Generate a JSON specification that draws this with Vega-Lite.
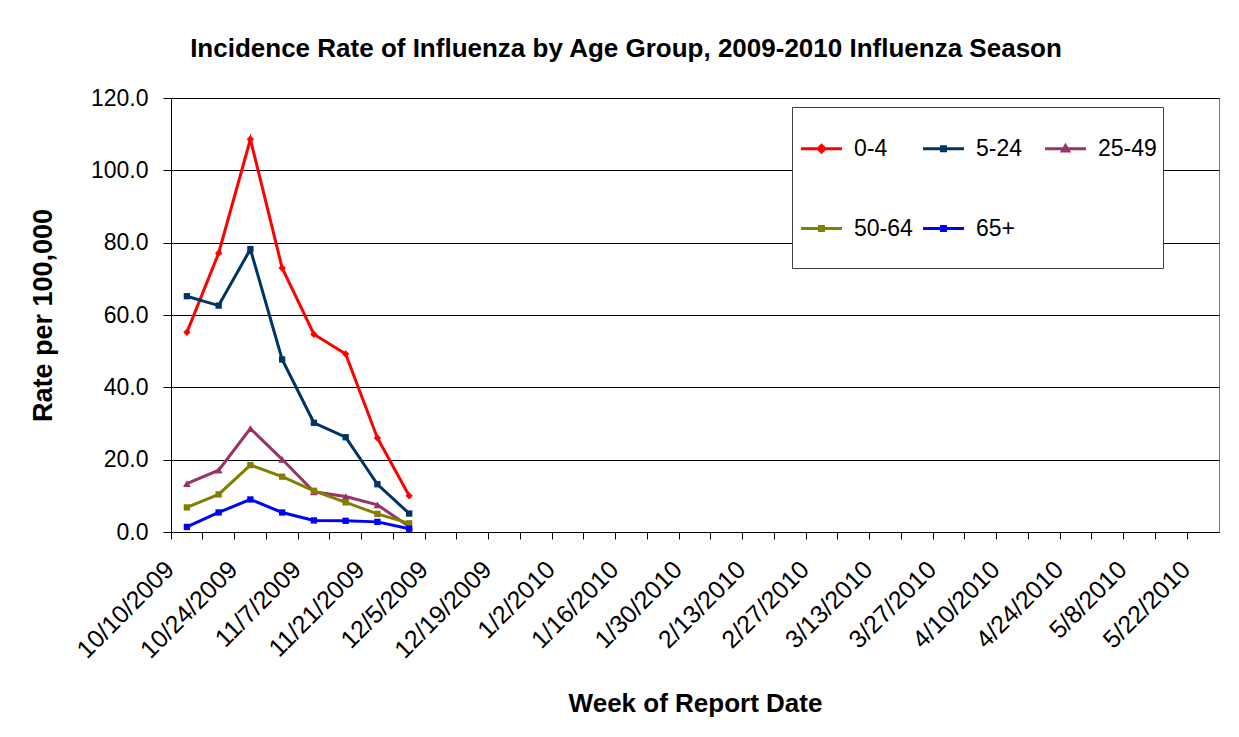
{
  "$schema": "https://vega.github.io/schema/vega-lite/v6.json",
  "width": 1048,
  "height": 434,
  "autosize": "none",
  "padding": {"left": 171, "top": 98, "right": 20, "bottom": 205},
  "background": "white",
  "config": {"font": "Liberation Sans", "view": {"stroke": "#808080", "strokeWidth": 1}},
  "title": {
    "text": "Incidence Rate of Influenza by Age Group, 2009-2010 Influenza Season",
    "fontSize": 26, "fontWeight": "bold", "font": "Liberation Sans", "color": "black",
    "anchor": "middle", "frame": "group", "dx": -69, "offset": 4, "baseline": "alphabetic"
  },
  "data": {
    "values": [
      {"week": "10/10/2009", "group": "0-4", "rate": 55.2},
      {"week": "10/17/2009", "group": "0-4", "rate": 77.1},
      {"week": "10/24/2009", "group": "0-4", "rate": 108.6},
      {"week": "10/31/2009", "group": "0-4", "rate": 73.0},
      {"week": "11/7/2009", "group": "0-4", "rate": 54.7},
      {"week": "11/14/2009", "group": "0-4", "rate": 49.2},
      {"week": "11/21/2009", "group": "0-4", "rate": 26.0},
      {"week": "11/28/2009", "group": "0-4", "rate": 10.0},
      {"week": "10/10/2009", "group": "5-24", "rate": 65.2},
      {"week": "10/17/2009", "group": "5-24", "rate": 62.6},
      {"week": "10/24/2009", "group": "5-24", "rate": 78.2},
      {"week": "10/31/2009", "group": "5-24", "rate": 47.7},
      {"week": "11/7/2009", "group": "5-24", "rate": 30.2},
      {"week": "11/14/2009", "group": "5-24", "rate": 26.2},
      {"week": "11/21/2009", "group": "5-24", "rate": 13.2},
      {"week": "11/28/2009", "group": "5-24", "rate": 5.1},
      {"week": "10/10/2009", "group": "25-49", "rate": 13.4},
      {"week": "10/17/2009", "group": "25-49", "rate": 17.1},
      {"week": "10/24/2009", "group": "25-49", "rate": 28.6},
      {"week": "10/31/2009", "group": "25-49", "rate": 20.1},
      {"week": "11/7/2009", "group": "25-49", "rate": 11.1},
      {"week": "11/14/2009", "group": "25-49", "rate": 9.8},
      {"week": "11/21/2009", "group": "25-49", "rate": 7.5},
      {"week": "11/28/2009", "group": "25-49", "rate": 1.5},
      {"week": "10/10/2009", "group": "50-64", "rate": 6.8},
      {"week": "10/17/2009", "group": "50-64", "rate": 10.4},
      {"week": "10/24/2009", "group": "50-64", "rate": 18.5},
      {"week": "10/31/2009", "group": "50-64", "rate": 15.3},
      {"week": "11/7/2009", "group": "50-64", "rate": 11.4},
      {"week": "11/14/2009", "group": "50-64", "rate": 8.2},
      {"week": "11/21/2009", "group": "50-64", "rate": 5.0},
      {"week": "11/28/2009", "group": "50-64", "rate": 2.4},
      {"week": "10/10/2009", "group": "65+", "rate": 1.4},
      {"week": "10/17/2009", "group": "65+", "rate": 5.4},
      {"week": "10/24/2009", "group": "65+", "rate": 9.0},
      {"week": "10/31/2009", "group": "65+", "rate": 5.4},
      {"week": "11/7/2009", "group": "65+", "rate": 3.2},
      {"week": "11/14/2009", "group": "65+", "rate": 3.1},
      {"week": "11/21/2009", "group": "65+", "rate": 2.8},
      {"week": "11/28/2009", "group": "65+", "rate": 0.9}
    ]
  },
  "encoding": {
    "x": {
      "field": "week", "type": "ordinal", "sort": null, "bandPosition": 0.5,
      "scale": {
        "type": "band", "paddingInner": 0, "paddingOuter": 0,
        "domain": ["10/10/2009","10/17/2009","10/24/2009","10/31/2009","11/7/2009","11/14/2009","11/21/2009","11/28/2009","12/5/2009","12/12/2009","12/19/2009","12/26/2009","1/2/2010","1/9/2010","1/16/2010","1/23/2010","1/30/2010","2/6/2010","2/13/2010","2/20/2010","2/27/2010","3/6/2010","3/13/2010","3/20/2010","3/27/2010","4/3/2010","4/10/2010","4/17/2010","4/24/2010","5/1/2010","5/8/2010","5/15/2010","5/22/2010"]
      },
      "axis": {
        "title": "Week of Report Date", "bandPosition": 0,
        "labelAngle": -45, "labelAlign": "right", "labelBaseline": "middle",
        "labelFontSize": 25, "labelColor": "black", "labelPadding": 26, "labelOffset": -17, "labelOverlap": false,
        "labelExpr": "indexof(domain('x'), datum.value) % 2 === 0 ? datum.label : ''",
        "tickSize": 7, "tickColor": "black", "domainColor": "black", "grid": false,
        "titleFontSize": 26, "titleFontWeight": "bold", "titleColor": "black", "titlePadding": 28
      }
    },
    "y": {
      "field": "rate", "type": "quantitative",
      "scale": {"domain": [0, 120], "nice": false},
      "axis": {
        "title": "Rate per 100,000", "values": [0, 20, 40, 60, 80, 100, 120], "format": ".1f",
        "grid": true, "gridColor": "black", "gridWidth": 1, "domainColor": "black",
        "tickColor": "black", "tickSize": 8, "labelFontSize": 23, "labelColor": "black", "labelPadding": 15,
        "titleFontSize": 27, "titleFontWeight": "bold", "titleColor": "black", "titlePadding": 33
      }
    },
    "color": {
      "field": "group", "type": "nominal",
      "scale": {"domain": ["0-4","5-24","25-49","50-64","65+"], "range": ["#FF0000","#003366","#993366","#808000","#0000FF"]},
      "legend": {
        "title": " ", "titleFontSize": 8, "titlePadding": 4,
        "orient": "none", "legendX": 621, "legendY": 9,
        "direction": "horizontal", "columns": 3, "gridAlign": "all",
        "columnPadding": 4, "rowPadding": 4, "padding": 6,
        "fillColor": "white", "strokeColor": "#404040",
        "labelFontSize": 23, "labelColor": "black", "labelOffset": 9,
        "symbolSize": 1936, "symbolStrokeWidth": 3,
        "symbolType": "M0,-1.64M0,1.23M-0.93,0H0.93M-0.09,-0.09H0.09V0.09H-0.09Z",
        "encode": {
          "symbols": {
            "update": {
              "shape": {"signal": "datum.value === '0-4' ? 'M0,-1.64M0,1.23M-0.93,0H0.93M0,-0.15L0.15,0L0,0.15L-0.15,0Z' : datum.value === '25-49' ? 'M0,-1.64M0,1.23M-0.93,0H0.93M0,-0.14L0.14,0.1L-0.14,0.1Z' : 'M0,-1.64M0,1.23M-0.93,0H0.93M-0.09,-0.09H0.09V0.09H-0.09Z'"},
              "fill": {"scale": "color", "field": "value"},
              "stroke": {"scale": "color", "field": "value"},
              "opacity": {"value": 1}
            }
          }
        }
      }
    }
  },
  "layer": [
    {"mark": {"type": "line", "strokeWidth": 3}, "encoding": {"order": {"value": null}}},
    {
      "transform": [{"filter": "datum.group === '0-4'"}],
      "mark": {"type": "point", "filled": true, "opacity": 1, "size": 55, "shape": "diamond"}
    },
    {
      "transform": [{"filter": "datum.group === '25-49'"}],
      "mark": {"type": "point", "filled": true, "opacity": 1, "size": 60, "shape": "triangle-up"}
    },
    {
      "transform": [{"filter": "datum.group !== '0-4' && datum.group !== '25-49'"}],
      "mark": {"type": "point", "filled": true, "opacity": 1, "size": 40, "shape": "square"}
    }
  ]
}
